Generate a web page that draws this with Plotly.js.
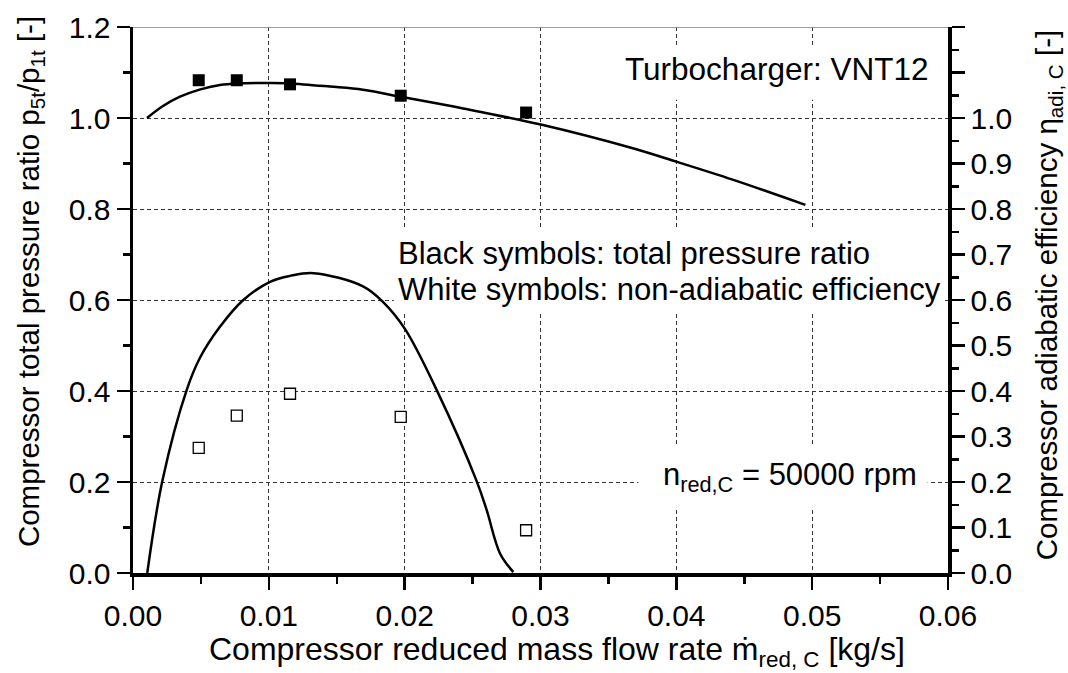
<!DOCTYPE html>
<html>
<head>
<meta charset="utf-8">
<script src="https://cdn.plot.ly/plotly-3.0.1.min.js"></script>
<style>html,body{margin:0;padding:0;background:#fff;}#chart{width:1068px;height:673px;}</style>
</head>
<body>
<div id="chart"></div>
<script>
// Measured points: total pressure ratio (black squares, left axis)
const prX = [0.00484, 0.00764, 0.01156, 0.01971, 0.02894];
const prY = [1.083, 1.083, 1.074, 1.049, 1.012];
// Measured points: non-adiabatic efficiency (white squares, right axis)
const effX = [0.00484, 0.00764, 0.01156, 0.01971, 0.02894];
const effY = [0.275, 0.346, 0.394, 0.343, 0.094];
// Model curve: total pressure ratio
const prCurveX = [0.00103, 0.00221, 0.00346, 0.0049, 0.0064, 0.00766, 0.01009, 0.01156, 0.0145, 0.01693, 0.0200, 0.0243, 0.0301, 0.0366, 0.0400, 0.0442, 0.0495];
const prCurveY = [1.0, 1.0264, 1.0468, 1.0624, 1.0725, 1.0760, 1.0769, 1.076, 1.069, 1.062, 1.045, 1.021, 0.985, 0.935, 0.904, 0.864, 0.809];
// Model curve: adiabatic efficiency
const effCurveX = [0.00105, 0.00216, 0.00395, 0.00493, 0.0064, 0.00812, 0.01009, 0.01156, 0.0133, 0.01693, 0.0184, 0.02003, 0.02236, 0.0253, 0.02604, 0.02702, 0.0280];
const effCurveY = [0.0, 0.202, 0.402, 0.473, 0.541, 0.600, 0.640, 0.653, 0.659, 0.630, 0.596, 0.536, 0.402, 0.202, 0.138, 0.043, 0.002];

// Tick values / labels
const xTickVals = [0, 0.01, 0.02, 0.03, 0.04, 0.05, 0.06];
const xTickText = ['0.00', '0.01', '0.02', '0.03', '0.04', '0.05', '0.06'];
const yTickVals = [0, 0.2, 0.4, 0.6, 0.8, 1.0, 1.2];
const yTickText = ['0.0', '0.2', '0.4', '0.6', '0.8', '1.0', '1.2'];
const y2TickVals = [0, 0.1, 0.2, 0.3, 0.4, 0.5, 0.6, 0.7, 0.8, 0.9, 1.0, 1.1, 1.2];
const y2TickText = ['0.0', '0.1', '0.2', '0.3', '0.4', '0.5', '0.6', '0.7', '0.8', '0.9', '1.0', '', ''];

const FONT = '"Liberation Sans", Arial, Helvetica, sans-serif';

const traces = [
  {x: prCurveX, y: prCurveY, mode: 'lines', line: {color: '#000', width: 2.5, shape: 'spline', smoothing: 1}, yaxis: 'y', hoverinfo: 'skip'},
  {x: effCurveX, y: effCurveY, mode: 'lines', line: {color: '#000', width: 2.5, shape: 'spline', smoothing: 1}, yaxis: 'y2', hoverinfo: 'skip'},
  {x: prX, y: prY, mode: 'markers', marker: {symbol: 'square', size: 12, color: '#000'}, yaxis: 'y'},
  {x: effX, y: effY, mode: 'markers', marker: {symbol: 'square', size: 11, color: '#fff', line: {color: '#000', width: 1.3}}, yaxis: 'y2'}
];

const axisCommon = {
  showline: true, linecolor: '#000', linewidth: 3.5,
  ticks: 'outside', ticklen: 13, tickwidth: 2.5, tickcolor: '#000',
  zeroline: false,
  tickfont: {family: FONT, size: 30, color: '#000'}
};

const layout = {
  width: 1068, height: 673,
  margin: {l: 133, r: 120, t: 27, b: 100},
  paper_bgcolor: '#fff', plot_bgcolor: '#fff',
  showlegend: false,
  font: {family: FONT, color: '#000'},
  xaxis: Object.assign({}, axisCommon, {
    range: [0, 0.06], tickmode: 'array', tickvals: xTickVals, ticktext: xTickText,
    showgrid: true, gridcolor: '#333', gridwidth: 1, griddash: '4px,3px',
    minor: {tickmode: 'linear', tick0: 0, dtick: 0.005, ticks: 'outside', ticklen: 7, tickwidth: 2.5, tickcolor: '#000', showgrid: false}
  }),
  yaxis: Object.assign({}, axisCommon, {
    range: [0, 1.2], tickmode: 'array', tickvals: yTickVals, ticktext: yTickText,
    showgrid: true, gridcolor: '#333', gridwidth: 1, griddash: '4px,3px',
    minor: {tickmode: 'linear', tick0: 0, dtick: 0.1, ticks: 'outside', ticklen: 7, tickwidth: 2.5, tickcolor: '#000', showgrid: false}
  }),
  yaxis2: Object.assign({}, axisCommon, {
    overlaying: 'y', side: 'right', anchor: 'x',
    range: [0, 1.2], tickmode: 'array', tickvals: y2TickVals, ticktext: y2TickText,
    showgrid: false,
    minor: {tickmode: 'linear', tick0: 0, dtick: 0.05, ticks: 'outside', ticklen: 7, tickwidth: 2.5, tickcolor: '#000', showgrid: false}
  }),
  shapes: [
    {type: 'line', xref: 'x', yref: 'y', x0: 0, x1: 0.06, y0: 1.2, y1: 1.2, line: {color: '#808080', width: 1.5}, layer: 'above'},
    {type: 'rect', xref: 'x', yref: 'y', x0: 0.0355, x1: 0.0594, y0: 1.04, y1: 1.16, fillcolor: '#fff', line: {width: 0}, layer: 'between'},
    {type: 'rect', xref: 'x', yref: 'y', x0: 0.0192, x1: 0.0597, y0: 0.574, y1: 0.758, fillcolor: '#fff', line: {width: 0}, layer: 'between'},
    {type: 'rect', xref: 'x', yref: 'y', x0: 0.0372, x1: 0.0585, y0: 0.143, y1: 0.281, fillcolor: '#fff', line: {width: 0}, layer: 'between'}
  ],
  annotations: [
    {xref: 'paper', yref: 'paper', x: 0.520, y: -0.143, xanchor: 'center', yanchor: 'middle', showarrow: false,
     text: 'Compressor reduced mass flow rate ṁ<sub>red, C</sub> [kg/s]', font: {family: FONT, size: 32, color: '#000'}},
    {xref: 'paper', yref: 'paper', x: -0.125, y: 0.533, xanchor: 'center', yanchor: 'middle', textangle: -90, showarrow: false,
     text: 'Compressor total pressure ratio p<sub>5t</sub>/p<sub>1t</sub> [-]', font: {family: FONT, size: 29.5, color: '#000'}},
    {xref: 'paper', yref: 'paper', x: 1.123, y: 0.509, xanchor: 'center', yanchor: 'middle', textangle: -90, showarrow: false,
     text: 'Compressor adiabatic efficiency η<sub>adi, C</sub> [-]', font: {family: FONT, size: 29.5, color: '#000'}},
    {xref: 'x', yref: 'y', x: 0.0587, y: 1.107, xanchor: 'right', yanchor: 'middle', showarrow: false,
     text: 'Turbocharger: VNT12', font: {family: FONT, size: 31.5, color: '#000'}},
    {xref: 'x', yref: 'y', x: 0.01936, y: 0.703, xanchor: 'left', yanchor: 'middle', showarrow: false,
     text: 'Black symbols: total pressure ratio', font: {family: FONT, size: 31, color: '#000'}},
    {xref: 'x', yref: 'y', x: 0.01936, y: 0.624, xanchor: 'left', yanchor: 'middle', showarrow: false,
     text: 'White symbols: non-adiabatic efficiency', font: {family: FONT, size: 31, color: '#000'}},
    {xref: 'x', yref: 'y', x: 0.0389, y: 0.211, xanchor: 'left', yanchor: 'middle', showarrow: false,
     text: 'n<sub>red,C</sub> = 50000 rpm', font: {family: FONT, size: 31, color: '#000'}}
  ]
};

Plotly.newPlot('chart', traces, layout, {displayModeBar: false, staticPlot: true});
</script>
</body>
</html>
